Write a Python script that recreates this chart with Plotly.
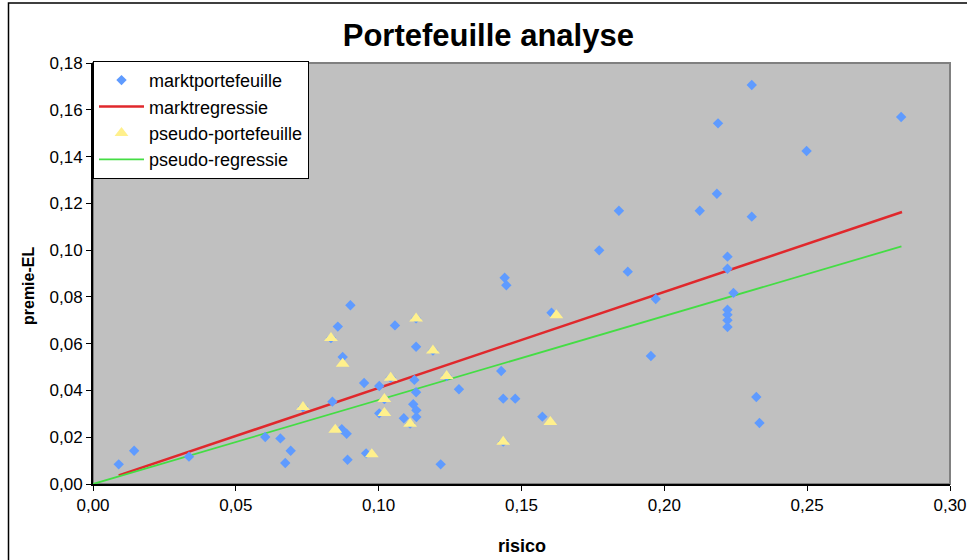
import plotly.graph_objects as go

# Market portfolio: risk (x) and premium minus expected loss (y)
markt_risico = [
    0.0090, 0.0144, 0.0336, 0.0603, 0.0656, 0.0692, 0.0673, 0.0735, 0.0838, 0.0833,
    0.0857, 0.0901, 0.0874, 0.0871, 0.0888, 0.0891, 0.0949, 0.0956, 0.1002, 0.1002,
    0.1057, 0.1131, 0.1131, 0.1190, 0.1042, 0.1125, 0.1238, 0.1281, 0.1020, 0.1131,
    0.1121, 0.1132, 0.1088, 0.1132, 0.1110, 0.1217, 0.1441, 0.1447, 0.1605, 0.1772,
    0.1429, 0.1436, 0.1478, 0.1573, 0.1436, 0.2306, 0.2829, 0.2188, 0.2498, 0.2184,
    0.1841, 0.2124, 0.2306, 0.1872, 0.2221, 0.2221, 0.1970, 0.2242, 0.2221, 0.2221,
    0.2221, 0.2221, 0.1953, 0.2322, 0.2333,
]
markt_premie = [
    0.0084, 0.0142, 0.0117, 0.0201, 0.0195, 0.0142, 0.0090, 0.0329, 0.0352, 0.0624,
    0.0673, 0.0764, 0.0543, 0.0234, 0.0215, 0.0104, 0.0432, 0.0131, 0.0419, 0.0302,
    0.0678, 0.0708, 0.0587, 0.0571, 0.0454, 0.0445, 0.0462, 0.0405, 0.0363, 0.0392,
    0.0341, 0.0315, 0.0281, 0.0286, 0.0258, 0.0084, 0.0882, 0.0850, 0.0732, 0.0999,
    0.0483, 0.0365, 0.0365, 0.0288, 0.0181, 0.1706, 0.1569, 0.1542, 0.1424, 0.1241,
    0.1168, 0.1168, 0.1143, 0.0908, 0.0972, 0.0920, 0.0791, 0.0817, 0.0745, 0.0724,
    0.0700, 0.0671, 0.0547, 0.0372, 0.0261,
]

# Pseudo portfolio
pseudo_risico = [
    0.0735, 0.0833, 0.0874, 0.0848, 0.0976, 0.1131, 0.1190, 0.1042,
    0.1238, 0.1020, 0.1020, 0.1110, 0.1622, 0.1601, 0.1436,
]
pseudo_premie = [
    0.0329, 0.0624, 0.0514, 0.0232, 0.0127, 0.0708, 0.0571, 0.0454,
    0.0462, 0.0363, 0.0304, 0.0258, 0.0721, 0.0265, 0.0181,
]

# Regression lines (end points)
markt_regr_x = [0.0090, 0.2832]
markt_regr_y = [0.0037, 0.1163]
pseudo_regr_x = [0.0, 0.2830]
pseudo_regr_y = [0.0, 0.1016]

FONT = "Liberation Sans, Arial, sans-serif"

fig = go.Figure()

fig.add_trace(go.Scatter(
    x=markt_regr_x, y=markt_regr_y, mode="lines", name="marktregressie",
    line=dict(color="#E0282C", width=2.5), legendrank=2, legendgroup="b",
))
fig.add_trace(go.Scatter(
    x=pseudo_regr_x, y=pseudo_regr_y, mode="lines", name="pseudo-regressie",
    line=dict(color="#44DD44", width=1.8), legendrank=4, legendgroup="d",
))
fig.add_trace(go.Scatter(
    x=markt_risico, y=markt_premie, mode="markers", name="marktportefeuille",
    marker=dict(symbol="diamond", size=8, color="#5F9BFF", line=dict(width=0)),
    legendrank=1, legendgroup="a",
))
fig.add_trace(go.Scatter(
    x=pseudo_risico, y=pseudo_premie, mode="markers", name="pseudo-portefeuille",
    marker=dict(symbol="triangle-up", size=12, color="#FFF08C", line=dict(width=0)),
    legendrank=3, legendgroup="c",
))

fig.update_layout(
    width=967, height=560,
    margin=dict(l=93, r=17, t=63, b=76, autoexpand=False),
    paper_bgcolor="white",
    plot_bgcolor="#C0C0C0",
    separators=",.",
    font=dict(family=FONT, color="black", size=17),
    title=dict(
        text="<b>Portefeuille analyse</b>",
        font=dict(family=FONT, size=31, color="black"),
        x=0.505, xanchor="center", y=1 - 35 / 560, yanchor="middle",
    ),
    legend=dict(
        x=0.0, y=1.005, xanchor="left", yanchor="top",
        bgcolor="white", bordercolor="black", borderwidth=1,
        font=dict(family=FONT, size=18, color="black"),
        tracegroupgap=0, traceorder="grouped", itemwidth=45,
    ),
    showlegend=True,
    xaxis=dict(
        range=[0, 0.30], dtick=0.05, tick0=0, tickformat=".2f",
        automargin=False,
        showgrid=False, zeroline=False,
        showline=True, linecolor="black", linewidth=2,
        ticks="outside", ticklen=5, tickcolor="black", tickwidth=1,
        tickfont=dict(family=FONT, size=17),
    ),
    yaxis=dict(
        range=[0, 0.18], dtick=0.02, tick0=0, tickformat=".2f",
        automargin=False,
        showgrid=False, zeroline=False,
        showline=True, linecolor="black", linewidth=2,
        ticks="outside", ticklen=5, tickcolor="black", tickwidth=1,
        tickfont=dict(family=FONT, size=17),
    ),
    shapes=[
        # grey frame on the top and right of the plot area
        dict(type="rect", xref="paper", yref="paper", x0=0, y0=0, x1=1, y1=1,
             line=dict(color="#808080", width=2), layer="below"),
        # outer chart border
        dict(type="rect", xref="paper", yref="paper",
             x0=(8.5 - 93) / 857, x1=1.05, y0=-0.25, y1=(484 - 3) / 421,
             line=dict(color="black", width=1.5), layer="below"),
    ],
    annotations=[
        dict(text="<b>premie-EL</b>", xref="paper", yref="paper",
             x=(28 - 93) / 857, y=(484 - 286) / 421, textangle=-90, showarrow=False,
             xanchor="center", yanchor="middle",
             font=dict(family=FONT, size=16, color="black")),
        dict(text="<b>risico</b>", xref="paper", yref="paper",
             x=0.5, y=(484 - 546) / 421, showarrow=False,
             xanchor="center", yanchor="middle",
             font=dict(family=FONT, size=18, color="black")),
    ],
)

fig.write_html("out.html")
